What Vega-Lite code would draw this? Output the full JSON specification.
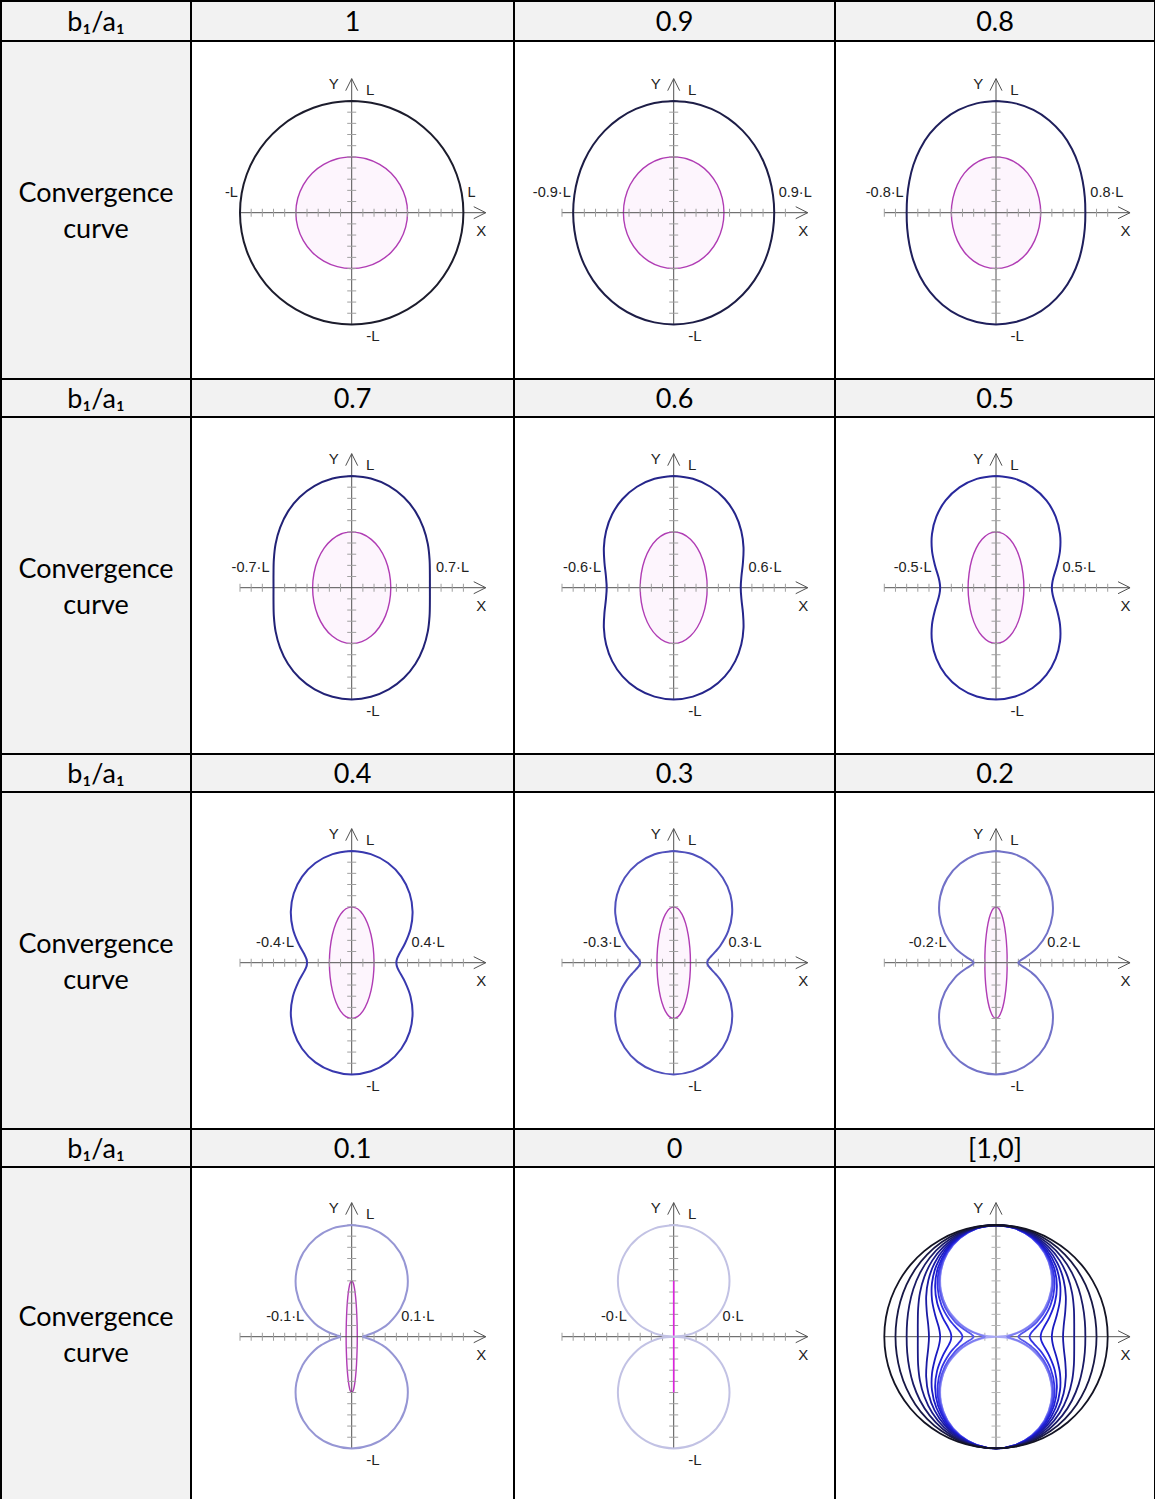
{
  "$schema": "https://vega.github.io/schema/vega-lite/v6.json",
  "background": "white",
  "padding": 0,
  "columns": 4,
  "spacing": 0,
  "bounds": "flush",
  "align": "each",
  "config": {
    "view": {"stroke": "#000000", "strokeWidth": 2},
    "text": {"color": "#000000"}
  },
  "datasets": {
    "ax": [{"x": -1, "y": 0, "x2": 1.2, "y2": 0}, {"x": 0, "y": -1, "x2": 0, "y2": 1.2}],
    "tx": [
      {"x": -1, "y": 0}, {"x": -0.9, "y": 0}, {"x": -0.8, "y": 0}, {"x": -0.7, "y": 0}, {"x": -0.6, "y": 0},
      {"x": -0.5, "y": 0}, {"x": -0.4, "y": 0}, {"x": -0.3, "y": 0}, {"x": -0.2, "y": 0}, {"x": -0.1, "y": 0},
      {"x": 0.1, "y": 0}, {"x": 0.2, "y": 0}, {"x": 0.3, "y": 0}, {"x": 0.4, "y": 0}, {"x": 0.5, "y": 0},
      {"x": 0.6, "y": 0}, {"x": 0.7, "y": 0}, {"x": 0.8, "y": 0}, {"x": 0.9, "y": 0}, {"x": 1, "y": 0}
    ],
    "ty": [
      {"x": 0, "y": -1}, {"x": 0, "y": -0.9}, {"x": 0, "y": -0.8}, {"x": 0, "y": -0.7}, {"x": 0, "y": -0.6},
      {"x": 0, "y": -0.5}, {"x": 0, "y": -0.4}, {"x": 0, "y": -0.3}, {"x": 0, "y": -0.2}, {"x": 0, "y": -0.1},
      {"x": 0, "y": 0.1}, {"x": 0, "y": 0.2}, {"x": 0, "y": 0.3}, {"x": 0, "y": 0.4}, {"x": 0, "y": 0.5},
      {"x": 0, "y": 0.6}, {"x": 0, "y": 0.7}, {"x": 0, "y": 0.8}, {"x": 0, "y": 0.9}, {"x": 0, "y": 1}
    ],
    "ar": [{"x": 1.2, "y": 0, "d": "r"}, {"x": 0, "y": 1.2, "d": "u"}],
    "fx": [
      {"x": -0.16, "y": 1.15, "t": "Y"},
      {"x": 0.165, "y": 1.1, "t": "L"},
      {"x": 0.19, "y": -1.105, "t": "-L"},
      {"x": 1.16, "y": -0.165, "t": "X"}
    ],
    "seg": [{"x": 0, "y": -0.5, "x2": 0, "y2": 0.5}],
    "lab": [
      {"r": 1, "s": "l", "t": "-L", "x": -0.984, "y": 0.18}, {"r": 1, "s": "r", "t": "L", "x": 0.984, "y": 0.18},
      {"r": 0.9, "s": "l", "t": "-0.9·L", "x": -0.886, "y": 0.18}, {"r": 0.9, "s": "r", "t": "0.9·L", "x": 0.886, "y": 0.18},
      {"r": 0.8, "s": "l", "t": "-0.8·L", "x": -0.791, "y": 0.18}, {"r": 0.8, "s": "r", "t": "0.8·L", "x": 0.791, "y": 0.18},
      {"r": 0.7, "s": "l", "t": "-0.7·L", "x": -0.7, "y": 0.18}, {"r": 0.7, "s": "r", "t": "0.7·L", "x": 0.7, "y": 0.18},
      {"r": 0.6, "s": "l", "t": "-0.6·L", "x": -0.615, "y": 0.18}, {"r": 0.6, "s": "r", "t": "0.6·L", "x": 0.615, "y": 0.18},
      {"r": 0.5, "s": "l", "t": "-0.5·L", "x": -0.541, "y": 0.18}, {"r": 0.5, "s": "r", "t": "0.5·L", "x": 0.541, "y": 0.18},
      {"r": 0.4, "s": "l", "t": "-0.4·L", "x": -0.481, "y": 0.18}, {"r": 0.4, "s": "r", "t": "0.4·L", "x": 0.481, "y": 0.18},
      {"r": 0.3, "s": "l", "t": "-0.3·L", "x": -0.436, "y": 0.18}, {"r": 0.3, "s": "r", "t": "0.3·L", "x": 0.436, "y": 0.18},
      {"r": 0.2, "s": "l", "t": "-0.2·L", "x": -0.406, "y": 0.18}, {"r": 0.2, "s": "r", "t": "0.2·L", "x": 0.406, "y": 0.18},
      {"r": 0.1, "s": "l", "t": "-0.1·L", "x": -0.39, "y": 0.18}, {"r": 0.1, "s": "r", "t": "0.1·L", "x": 0.39, "y": 0.18},
      {"r": 0, "s": "l", "t": "-0·L", "x": -0.384, "y": 0.18}, {"r": 0, "s": "r", "t": "0·L", "x": 0.384, "y": 0.18}
    ],
    "ell": [
      {"r":1,"x":0,"y":0.5},{"r":1,"x":-0.129,"y":0.483},{"r":1,"x":-0.25,"y":0.433},{"r":1,"x":-0.354,"y":0.354},{"r":1,"x":-0.433,"y":0.25},{"r":1,"x":-0.483,"y":0.129},{"r":1,"x":-0.5,"y":0},{"r":1,"x":-0.483,"y":-0.129},{"r":1,"x":-0.433,"y":-0.25},{"r":1,"x":-0.354,"y":-0.354},{"r":1,"x":-0.25,"y":-0.433},{"r":1,"x":-0.129,"y":-0.483},{"r":1,"x":0,"y":-0.5},{"r":1,"x":0.129,"y":-0.483},{"r":1,"x":0.25,"y":-0.433},{"r":1,"x":0.354,"y":-0.354},{"r":1,"x":0.433,"y":-0.25},{"r":1,"x":0.483,"y":-0.129},{"r":1,"x":0.5,"y":0},{"r":1,"x":0.483,"y":0.129},{"r":1,"x":0.433,"y":0.25},{"r":1,"x":0.354,"y":0.354},{"r":1,"x":0.25,"y":0.433},{"r":1,"x":0.129,"y":0.483},{"r":1,"x":0,"y":0.5},
      {"r":0.9,"x":0,"y":0.5},{"r":0.9,"x":-0.116,"y":0.483},{"r":0.9,"x":-0.225,"y":0.433},{"r":0.9,"x":-0.318,"y":0.354},{"r":0.9,"x":-0.39,"y":0.25},{"r":0.9,"x":-0.435,"y":0.129},{"r":0.9,"x":-0.45,"y":0},{"r":0.9,"x":-0.435,"y":-0.129},{"r":0.9,"x":-0.39,"y":-0.25},{"r":0.9,"x":-0.318,"y":-0.354},{"r":0.9,"x":-0.225,"y":-0.433},{"r":0.9,"x":-0.116,"y":-0.483},{"r":0.9,"x":0,"y":-0.5},{"r":0.9,"x":0.116,"y":-0.483},{"r":0.9,"x":0.225,"y":-0.433},{"r":0.9,"x":0.318,"y":-0.354},{"r":0.9,"x":0.39,"y":-0.25},{"r":0.9,"x":0.435,"y":-0.129},{"r":0.9,"x":0.45,"y":0},{"r":0.9,"x":0.435,"y":0.129},{"r":0.9,"x":0.39,"y":0.25},{"r":0.9,"x":0.318,"y":0.354},{"r":0.9,"x":0.225,"y":0.433},{"r":0.9,"x":0.116,"y":0.483},{"r":0.9,"x":0,"y":0.5},
      {"r":0.8,"x":0,"y":0.5},{"r":0.8,"x":-0.104,"y":0.483},{"r":0.8,"x":-0.2,"y":0.433},{"r":0.8,"x":-0.283,"y":0.354},{"r":0.8,"x":-0.346,"y":0.25},{"r":0.8,"x":-0.386,"y":0.129},{"r":0.8,"x":-0.4,"y":0},{"r":0.8,"x":-0.386,"y":-0.129},{"r":0.8,"x":-0.346,"y":-0.25},{"r":0.8,"x":-0.283,"y":-0.354},{"r":0.8,"x":-0.2,"y":-0.433},{"r":0.8,"x":-0.104,"y":-0.483},{"r":0.8,"x":0,"y":-0.5},{"r":0.8,"x":0.104,"y":-0.483},{"r":0.8,"x":0.2,"y":-0.433},{"r":0.8,"x":0.283,"y":-0.354},{"r":0.8,"x":0.346,"y":-0.25},{"r":0.8,"x":0.386,"y":-0.129},{"r":0.8,"x":0.4,"y":0},{"r":0.8,"x":0.386,"y":0.129},{"r":0.8,"x":0.346,"y":0.25},{"r":0.8,"x":0.283,"y":0.354},{"r":0.8,"x":0.2,"y":0.433},{"r":0.8,"x":0.104,"y":0.483},{"r":0.8,"x":0,"y":0.5},
      {"r":0.7,"x":0,"y":0.5},{"r":0.7,"x":-0.091,"y":0.483},{"r":0.7,"x":-0.175,"y":0.433},{"r":0.7,"x":-0.247,"y":0.354},{"r":0.7,"x":-0.303,"y":0.25},{"r":0.7,"x":-0.338,"y":0.129},{"r":0.7,"x":-0.35,"y":0},{"r":0.7,"x":-0.338,"y":-0.129},{"r":0.7,"x":-0.303,"y":-0.25},{"r":0.7,"x":-0.247,"y":-0.354},{"r":0.7,"x":-0.175,"y":-0.433},{"r":0.7,"x":-0.091,"y":-0.483},{"r":0.7,"x":0,"y":-0.5},{"r":0.7,"x":0.091,"y":-0.483},{"r":0.7,"x":0.175,"y":-0.433},{"r":0.7,"x":0.247,"y":-0.354},{"r":0.7,"x":0.303,"y":-0.25},{"r":0.7,"x":0.338,"y":-0.129},{"r":0.7,"x":0.35,"y":0},{"r":0.7,"x":0.338,"y":0.129},{"r":0.7,"x":0.303,"y":0.25},{"r":0.7,"x":0.247,"y":0.354},{"r":0.7,"x":0.175,"y":0.433},{"r":0.7,"x":0.091,"y":0.483},{"r":0.7,"x":0,"y":0.5},
      {"r":0.6,"x":0,"y":0.5},{"r":0.6,"x":-0.078,"y":0.483},{"r":0.6,"x":-0.15,"y":0.433},{"r":0.6,"x":-0.212,"y":0.354},{"r":0.6,"x":-0.26,"y":0.25},{"r":0.6,"x":-0.29,"y":0.129},{"r":0.6,"x":-0.3,"y":0},{"r":0.6,"x":-0.29,"y":-0.129},{"r":0.6,"x":-0.26,"y":-0.25},{"r":0.6,"x":-0.212,"y":-0.354},{"r":0.6,"x":-0.15,"y":-0.433},{"r":0.6,"x":-0.078,"y":-0.483},{"r":0.6,"x":0,"y":-0.5},{"r":0.6,"x":0.078,"y":-0.483},{"r":0.6,"x":0.15,"y":-0.433},{"r":0.6,"x":0.212,"y":-0.354},{"r":0.6,"x":0.26,"y":-0.25},{"r":0.6,"x":0.29,"y":-0.129},{"r":0.6,"x":0.3,"y":0},{"r":0.6,"x":0.29,"y":0.129},{"r":0.6,"x":0.26,"y":0.25},{"r":0.6,"x":0.212,"y":0.354},{"r":0.6,"x":0.15,"y":0.433},{"r":0.6,"x":0.078,"y":0.483},{"r":0.6,"x":0,"y":0.5},
      {"r":0.5,"x":0,"y":0.5},{"r":0.5,"x":-0.065,"y":0.483},{"r":0.5,"x":-0.125,"y":0.433},{"r":0.5,"x":-0.177,"y":0.354},{"r":0.5,"x":-0.217,"y":0.25},{"r":0.5,"x":-0.241,"y":0.129},{"r":0.5,"x":-0.25,"y":0},{"r":0.5,"x":-0.241,"y":-0.129},{"r":0.5,"x":-0.217,"y":-0.25},{"r":0.5,"x":-0.177,"y":-0.354},{"r":0.5,"x":-0.125,"y":-0.433},{"r":0.5,"x":-0.065,"y":-0.483},{"r":0.5,"x":0,"y":-0.5},{"r":0.5,"x":0.065,"y":-0.483},{"r":0.5,"x":0.125,"y":-0.433},{"r":0.5,"x":0.177,"y":-0.354},{"r":0.5,"x":0.217,"y":-0.25},{"r":0.5,"x":0.241,"y":-0.129},{"r":0.5,"x":0.25,"y":0},{"r":0.5,"x":0.241,"y":0.129},{"r":0.5,"x":0.217,"y":0.25},{"r":0.5,"x":0.177,"y":0.354},{"r":0.5,"x":0.125,"y":0.433},{"r":0.5,"x":0.065,"y":0.483},{"r":0.5,"x":0,"y":0.5},
      {"r":0.4,"x":0,"y":0.5},{"r":0.4,"x":-0.052,"y":0.483},{"r":0.4,"x":-0.1,"y":0.433},{"r":0.4,"x":-0.141,"y":0.354},{"r":0.4,"x":-0.173,"y":0.25},{"r":0.4,"x":-0.193,"y":0.129},{"r":0.4,"x":-0.2,"y":0},{"r":0.4,"x":-0.193,"y":-0.129},{"r":0.4,"x":-0.173,"y":-0.25},{"r":0.4,"x":-0.141,"y":-0.354},{"r":0.4,"x":-0.1,"y":-0.433},{"r":0.4,"x":-0.052,"y":-0.483},{"r":0.4,"x":0,"y":-0.5},{"r":0.4,"x":0.052,"y":-0.483},{"r":0.4,"x":0.1,"y":-0.433},{"r":0.4,"x":0.141,"y":-0.354},{"r":0.4,"x":0.173,"y":-0.25},{"r":0.4,"x":0.193,"y":-0.129},{"r":0.4,"x":0.2,"y":0},{"r":0.4,"x":0.193,"y":0.129},{"r":0.4,"x":0.173,"y":0.25},{"r":0.4,"x":0.141,"y":0.354},{"r":0.4,"x":0.1,"y":0.433},{"r":0.4,"x":0.052,"y":0.483},{"r":0.4,"x":0,"y":0.5},
      {"r":0.3,"x":0,"y":0.5},{"r":0.3,"x":-0.039,"y":0.483},{"r":0.3,"x":-0.075,"y":0.433},{"r":0.3,"x":-0.106,"y":0.354},{"r":0.3,"x":-0.13,"y":0.25},{"r":0.3,"x":-0.145,"y":0.129},{"r":0.3,"x":-0.15,"y":0},{"r":0.3,"x":-0.145,"y":-0.129},{"r":0.3,"x":-0.13,"y":-0.25},{"r":0.3,"x":-0.106,"y":-0.354},{"r":0.3,"x":-0.075,"y":-0.433},{"r":0.3,"x":-0.039,"y":-0.483},{"r":0.3,"x":0,"y":-0.5},{"r":0.3,"x":0.039,"y":-0.483},{"r":0.3,"x":0.075,"y":-0.433},{"r":0.3,"x":0.106,"y":-0.354},{"r":0.3,"x":0.13,"y":-0.25},{"r":0.3,"x":0.145,"y":-0.129},{"r":0.3,"x":0.15,"y":0},{"r":0.3,"x":0.145,"y":0.129},{"r":0.3,"x":0.13,"y":0.25},{"r":0.3,"x":0.106,"y":0.354},{"r":0.3,"x":0.075,"y":0.433},{"r":0.3,"x":0.039,"y":0.483},{"r":0.3,"x":0,"y":0.5},
      {"r":0.2,"x":0,"y":0.5},{"r":0.2,"x":-0.026,"y":0.483},{"r":0.2,"x":-0.05,"y":0.433},{"r":0.2,"x":-0.071,"y":0.354},{"r":0.2,"x":-0.087,"y":0.25},{"r":0.2,"x":-0.097,"y":0.129},{"r":0.2,"x":-0.1,"y":0},{"r":0.2,"x":-0.097,"y":-0.129},{"r":0.2,"x":-0.087,"y":-0.25},{"r":0.2,"x":-0.071,"y":-0.354},{"r":0.2,"x":-0.05,"y":-0.433},{"r":0.2,"x":-0.026,"y":-0.483},{"r":0.2,"x":0,"y":-0.5},{"r":0.2,"x":0.026,"y":-0.483},{"r":0.2,"x":0.05,"y":-0.433},{"r":0.2,"x":0.071,"y":-0.354},{"r":0.2,"x":0.087,"y":-0.25},{"r":0.2,"x":0.097,"y":-0.129},{"r":0.2,"x":0.1,"y":0},{"r":0.2,"x":0.097,"y":0.129},{"r":0.2,"x":0.087,"y":0.25},{"r":0.2,"x":0.071,"y":0.354},{"r":0.2,"x":0.05,"y":0.433},{"r":0.2,"x":0.026,"y":0.483},{"r":0.2,"x":0,"y":0.5},
      {"r":0.1,"x":0,"y":0.5},{"r":0.1,"x":-0.013,"y":0.483},{"r":0.1,"x":-0.025,"y":0.433},{"r":0.1,"x":-0.035,"y":0.354},{"r":0.1,"x":-0.043,"y":0.25},{"r":0.1,"x":-0.048,"y":0.129},{"r":0.1,"x":-0.05,"y":0},{"r":0.1,"x":-0.048,"y":-0.129},{"r":0.1,"x":-0.043,"y":-0.25},{"r":0.1,"x":-0.035,"y":-0.354},{"r":0.1,"x":-0.025,"y":-0.433},{"r":0.1,"x":-0.013,"y":-0.483},{"r":0.1,"x":0,"y":-0.5},{"r":0.1,"x":0.013,"y":-0.483},{"r":0.1,"x":0.025,"y":-0.433},{"r":0.1,"x":0.035,"y":-0.354},{"r":0.1,"x":0.043,"y":-0.25},{"r":0.1,"x":0.048,"y":-0.129},{"r":0.1,"x":0.05,"y":0},{"r":0.1,"x":0.048,"y":0.129},{"r":0.1,"x":0.043,"y":0.25},{"r":0.1,"x":0.035,"y":0.354},{"r":0.1,"x":0.025,"y":0.433},{"r":0.1,"x":0.013,"y":0.483},{"r":0.1,"x":0,"y":0.5}
    ],
    "hippo": [
      {"r":0,"x":0,"y":1},{"r":0,"x":-0.171,"y":0.97},{"r":0,"x":-0.321,"y":0.883},{"r":0,"x":-0.433,"y":0.75},{"r":0,"x":-0.492,"y":0.587},{"r":0,"x":-0.492,"y":0.413},{"r":0,"x":-0.433,"y":0.25},{"r":0,"x":-0.321,"y":0.117},{"r":0,"x":-0.25,"y":0.067},{"r":0,"x":-0.171,"y":0.03},{"r":0,"x":-0.087,"y":0.008},{"r":0,"x":0,"y":0},
      {"r":0,"x":-0.087,"y":-0.008},{"r":0,"x":-0.171,"y":-0.03},{"r":0,"x":-0.25,"y":-0.067},{"r":0,"x":-0.321,"y":-0.117},{"r":0,"x":-0.433,"y":-0.25},{"r":0,"x":-0.492,"y":-0.413},{"r":0,"x":-0.492,"y":-0.587},{"r":0,"x":-0.433,"y":-0.75},{"r":0,"x":-0.321,"y":-0.883},{"r":0,"x":-0.171,"y":-0.97},{"r":0,"x":0,"y":-1},
      {"r":0,"x":0.171,"y":-0.97},{"r":0,"x":0.321,"y":-0.883},{"r":0,"x":0.433,"y":-0.75},{"r":0,"x":0.492,"y":-0.587},{"r":0,"x":0.492,"y":-0.413},{"r":0,"x":0.433,"y":-0.25},{"r":0,"x":0.321,"y":-0.117},{"r":0,"x":0.25,"y":-0.067},{"r":0,"x":0.171,"y":-0.03},{"r":0,"x":0.087,"y":-0.008},{"r":0,"x":0,"y":0},
      {"r":0,"x":0.087,"y":0.008},{"r":0,"x":0.171,"y":0.03},{"r":0,"x":0.25,"y":0.067},{"r":0,"x":0.321,"y":0.117},{"r":0,"x":0.433,"y":0.25},{"r":0,"x":0.492,"y":0.413},{"r":0,"x":0.492,"y":0.587},{"r":0,"x":0.433,"y":0.75},{"r":0,"x":0.321,"y":0.883},{"r":0,"x":0.171,"y":0.97},{"r":0,"x":0,"y":1},

      {"r":0.1,"x":0,"y":1},{"r":0.1,"x":-0.171,"y":0.97},{"r":0.1,"x":-0.322,"y":0.884},{"r":0.1,"x":-0.434,"y":0.751},{"r":0.1,"x":-0.494,"y":0.589},{"r":0.1,"x":-0.496,"y":0.416},{"r":0.1,"x":-0.439,"y":0.254},{"r":0.1,"x":-0.333,"y":0.121},{"r":0.1,"x":-0.267,"y":0.072},{"r":0.1,"x":-0.197,"y":0.035},{"r":0.1,"x":-0.132,"y":0.012},{"r":0.1,"x":-0.1,"y":0},
      {"r":0.1,"x":-0.132,"y":-0.012},{"r":0.1,"x":-0.197,"y":-0.035},{"r":0.1,"x":-0.267,"y":-0.072},{"r":0.1,"x":-0.333,"y":-0.121},{"r":0.1,"x":-0.439,"y":-0.254},{"r":0.1,"x":-0.496,"y":-0.416},{"r":0.1,"x":-0.494,"y":-0.589},{"r":0.1,"x":-0.434,"y":-0.751},{"r":0.1,"x":-0.322,"y":-0.884},{"r":0.1,"x":-0.171,"y":-0.97},{"r":0.1,"x":0,"y":-1},
      {"r":0.1,"x":0.171,"y":-0.97},{"r":0.1,"x":0.322,"y":-0.884},{"r":0.1,"x":0.434,"y":-0.751},{"r":0.1,"x":0.494,"y":-0.589},{"r":0.1,"x":0.496,"y":-0.416},{"r":0.1,"x":0.439,"y":-0.254},{"r":0.1,"x":0.333,"y":-0.121},{"r":0.1,"x":0.267,"y":-0.072},{"r":0.1,"x":0.197,"y":-0.035},{"r":0.1,"x":0.132,"y":-0.012},{"r":0.1,"x":0.1,"y":0},
      {"r":0.1,"x":0.132,"y":0.012},{"r":0.1,"x":0.197,"y":0.035},{"r":0.1,"x":0.267,"y":0.072},{"r":0.1,"x":0.333,"y":0.121},{"r":0.1,"x":0.439,"y":0.254},{"r":0.1,"x":0.496,"y":0.416},{"r":0.1,"x":0.494,"y":0.589},{"r":0.1,"x":0.434,"y":0.751},{"r":0.1,"x":0.322,"y":0.884},{"r":0.1,"x":0.171,"y":0.97},{"r":0.1,"x":0,"y":1},

      {"r":0.2,"x":0,"y":1},{"r":0.2,"x":-0.171,"y":0.97},{"r":0.2,"x":-0.322,"y":0.885},{"r":0.2,"x":-0.436,"y":0.755},{"r":0.2,"x":-0.499,"y":0.595},{"r":0.2,"x":-0.506,"y":0.425},{"r":0.2,"x":-0.458,"y":0.265},{"r":0.2,"x":-0.367,"y":0.133},{"r":0.2,"x":-0.312,"y":0.084},{"r":0.2,"x":-0.259,"y":0.046},{"r":0.2,"x":-0.217,"y":0.019},{"r":0.2,"x":-0.2,"y":0},
      {"r":0.2,"x":-0.217,"y":-0.019},{"r":0.2,"x":-0.259,"y":-0.046},{"r":0.2,"x":-0.312,"y":-0.084},{"r":0.2,"x":-0.367,"y":-0.133},{"r":0.2,"x":-0.458,"y":-0.265},{"r":0.2,"x":-0.506,"y":-0.425},{"r":0.2,"x":-0.499,"y":-0.595},{"r":0.2,"x":-0.436,"y":-0.755},{"r":0.2,"x":-0.322,"y":-0.885},{"r":0.2,"x":-0.171,"y":-0.97},{"r":0.2,"x":0,"y":-1},
      {"r":0.2,"x":0.171,"y":-0.97},{"r":0.2,"x":0.322,"y":-0.885},{"r":0.2,"x":0.436,"y":-0.755},{"r":0.2,"x":0.499,"y":-0.595},{"r":0.2,"x":0.506,"y":-0.425},{"r":0.2,"x":0.458,"y":-0.265},{"r":0.2,"x":0.367,"y":-0.133},{"r":0.2,"x":0.312,"y":-0.084},{"r":0.2,"x":0.259,"y":-0.046},{"r":0.2,"x":0.217,"y":-0.019},{"r":0.2,"x":0.2,"y":0},
      {"r":0.2,"x":0.217,"y":0.019},{"r":0.2,"x":0.259,"y":0.046},{"r":0.2,"x":0.312,"y":0.084},{"r":0.2,"x":0.367,"y":0.133},{"r":0.2,"x":0.458,"y":0.265},{"r":0.2,"x":0.506,"y":0.425},{"r":0.2,"x":0.499,"y":0.595},{"r":0.2,"x":0.436,"y":0.755},{"r":0.2,"x":0.322,"y":0.885},{"r":0.2,"x":0.171,"y":0.97},{"r":0.2,"x":0,"y":1},

      {"r":0.3,"x":0,"y":1},{"r":0.3,"x":-0.171,"y":0.971},{"r":0.3,"x":-0.323,"y":0.888},{"r":0.3,"x":-0.439,"y":0.761},{"r":0.3,"x":-0.508,"y":0.605},{"r":0.3,"x":-0.523,"y":0.439},{"r":0.3,"x":-0.488,"y":0.282},{"r":0.3,"x":-0.417,"y":0.152},{"r":0.3,"x":-0.375,"y":0.101},{"r":0.3,"x":-0.337,"y":0.06},{"r":0.3,"x":-0.31,"y":0.027},{"r":0.3,"x":-0.3,"y":0},
      {"r":0.3,"x":-0.31,"y":-0.027},{"r":0.3,"x":-0.337,"y":-0.06},{"r":0.3,"x":-0.375,"y":-0.101},{"r":0.3,"x":-0.417,"y":-0.152},{"r":0.3,"x":-0.488,"y":-0.282},{"r":0.3,"x":-0.523,"y":-0.439},{"r":0.3,"x":-0.508,"y":-0.605},{"r":0.3,"x":-0.439,"y":-0.761},{"r":0.3,"x":-0.323,"y":-0.888},{"r":0.3,"x":-0.171,"y":-0.971},{"r":0.3,"x":0,"y":-1},
      {"r":0.3,"x":0.171,"y":-0.971},{"r":0.3,"x":0.323,"y":-0.888},{"r":0.3,"x":0.439,"y":-0.761},{"r":0.3,"x":0.508,"y":-0.605},{"r":0.3,"x":0.523,"y":-0.439},{"r":0.3,"x":0.488,"y":-0.282},{"r":0.3,"x":0.417,"y":-0.152},{"r":0.3,"x":0.375,"y":-0.101},{"r":0.3,"x":0.337,"y":-0.06},{"r":0.3,"x":0.31,"y":-0.027},{"r":0.3,"x":0.3,"y":0},
      {"r":0.3,"x":0.31,"y":0.027},{"r":0.3,"x":0.337,"y":0.06},{"r":0.3,"x":0.375,"y":0.101},{"r":0.3,"x":0.417,"y":0.152},{"r":0.3,"x":0.488,"y":0.282},{"r":0.3,"x":0.523,"y":0.439},{"r":0.3,"x":0.508,"y":0.605},{"r":0.3,"x":0.439,"y":0.761},{"r":0.3,"x":0.323,"y":0.888},{"r":0.3,"x":0.171,"y":0.971},{"r":0.3,"x":0,"y":1},

      {"r":0.4,"x":0,"y":1},{"r":0.4,"x":-0.171,"y":0.972},{"r":0.4,"x":-0.325,"y":0.892},{"r":0.4,"x":-0.444,"y":0.77},{"r":0.4,"x":-0.519,"y":0.619},{"r":0.4,"x":-0.545,"y":0.458},{"r":0.4,"x":-0.527,"y":0.304},{"r":0.4,"x":-0.478,"y":0.174},{"r":0.4,"x":-0.424,"y":0.075},{"r":0.4,"x":-0.406,"y":0.036},{"r":0.4,"x":-0.4,"y":0},
      {"r":0.4,"x":-0.406,"y":-0.036},{"r":0.4,"x":-0.424,"y":-0.075},{"r":0.4,"x":-0.478,"y":-0.174},{"r":0.4,"x":-0.527,"y":-0.304},{"r":0.4,"x":-0.545,"y":-0.458},{"r":0.4,"x":-0.519,"y":-0.619},{"r":0.4,"x":-0.444,"y":-0.77},{"r":0.4,"x":-0.325,"y":-0.892},{"r":0.4,"x":-0.171,"y":-0.972},{"r":0.4,"x":0,"y":-1},
      {"r":0.4,"x":0.171,"y":-0.972},{"r":0.4,"x":0.325,"y":-0.892},{"r":0.4,"x":0.444,"y":-0.77},{"r":0.4,"x":0.519,"y":-0.619},{"r":0.4,"x":0.545,"y":-0.458},{"r":0.4,"x":0.527,"y":-0.304},{"r":0.4,"x":0.478,"y":-0.174},{"r":0.4,"x":0.424,"y":-0.075},{"r":0.4,"x":0.406,"y":-0.036},{"r":0.4,"x":0.4,"y":0},
      {"r":0.4,"x":0.406,"y":0.036},{"r":0.4,"x":0.424,"y":0.075},{"r":0.4,"x":0.478,"y":0.174},{"r":0.4,"x":0.527,"y":0.304},{"r":0.4,"x":0.545,"y":0.458},{"r":0.4,"x":0.519,"y":0.619},{"r":0.4,"x":0.444,"y":0.77},{"r":0.4,"x":0.325,"y":0.892},{"r":0.4,"x":0.171,"y":0.972},{"r":0.4,"x":0,"y":1},

      {"r":0.5,"x":0,"y":1},{"r":0.5,"x":-0.172,"y":0.974},{"r":0.5,"x":-0.327,"y":0.898},{"r":0.5,"x":-0.451,"y":0.781},{"r":0.5,"x":-0.534,"y":0.636},{"r":0.5,"x":-0.573,"y":0.481},{"r":0.5,"x":-0.573,"y":0.331},{"r":0.5,"x":-0.546,"y":0.199},{"r":0.5,"x":-0.514,"y":0.091},{"r":0.5,"x":-0.504,"y":0.044},{"r":0.5,"x":-0.5,"y":0},
      {"r":0.5,"x":-0.504,"y":-0.044},{"r":0.5,"x":-0.514,"y":-0.091},{"r":0.5,"x":-0.546,"y":-0.199},{"r":0.5,"x":-0.573,"y":-0.331},{"r":0.5,"x":-0.573,"y":-0.481},{"r":0.5,"x":-0.534,"y":-0.636},{"r":0.5,"x":-0.451,"y":-0.781},{"r":0.5,"x":-0.327,"y":-0.898},{"r":0.5,"x":-0.172,"y":-0.974},{"r":0.5,"x":0,"y":-1},
      {"r":0.5,"x":0.172,"y":-0.974},{"r":0.5,"x":0.327,"y":-0.898},{"r":0.5,"x":0.451,"y":-0.781},{"r":0.5,"x":0.534,"y":-0.636},{"r":0.5,"x":0.573,"y":-0.481},{"r":0.5,"x":0.573,"y":-0.331},{"r":0.5,"x":0.546,"y":-0.199},{"r":0.5,"x":0.514,"y":-0.091},{"r":0.5,"x":0.504,"y":-0.044},{"r":0.5,"x":0.5,"y":0},
      {"r":0.5,"x":0.504,"y":0.044},{"r":0.5,"x":0.514,"y":0.091},{"r":0.5,"x":0.546,"y":0.199},{"r":0.5,"x":0.573,"y":0.331},{"r":0.5,"x":0.573,"y":0.481},{"r":0.5,"x":0.534,"y":0.636},{"r":0.5,"x":0.451,"y":0.781},{"r":0.5,"x":0.327,"y":0.898},{"r":0.5,"x":0.172,"y":0.974},{"r":0.5,"x":0,"y":1},

      {"r":0.6,"x":0,"y":1},{"r":0.6,"x":-0.172,"y":0.975},{"r":0.6,"x":-0.329,"y":0.904},{"r":0.6,"x":-0.458,"y":0.794},{"r":0.6,"x":-0.551,"y":0.657},{"r":0.6,"x":-0.605,"y":0.508},{"r":0.6,"x":-0.625,"y":0.361},{"r":0.6,"x":-0.62,"y":0.226},{"r":0.6,"x":-0.607,"y":0.107},{"r":0.6,"x":-0.6,"y":0},
      {"r":0.6,"x":-0.607,"y":-0.107},{"r":0.6,"x":-0.62,"y":-0.226},{"r":0.6,"x":-0.625,"y":-0.361},{"r":0.6,"x":-0.605,"y":-0.508},{"r":0.6,"x":-0.551,"y":-0.657},{"r":0.6,"x":-0.458,"y":-0.794},{"r":0.6,"x":-0.329,"y":-0.904},{"r":0.6,"x":-0.172,"y":-0.975},{"r":0.6,"x":0,"y":-1},
      {"r":0.6,"x":0.172,"y":-0.975},{"r":0.6,"x":0.329,"y":-0.904},{"r":0.6,"x":0.458,"y":-0.794},{"r":0.6,"x":0.551,"y":-0.657},{"r":0.6,"x":0.605,"y":-0.508},{"r":0.6,"x":0.625,"y":-0.361},{"r":0.6,"x":0.62,"y":-0.226},{"r":0.6,"x":0.607,"y":-0.107},{"r":0.6,"x":0.6,"y":0},
      {"r":0.6,"x":0.607,"y":0.107},{"r":0.6,"x":0.62,"y":0.226},{"r":0.6,"x":0.625,"y":0.361},{"r":0.6,"x":0.605,"y":0.508},{"r":0.6,"x":0.551,"y":0.657},{"r":0.6,"x":0.458,"y":0.794},{"r":0.6,"x":0.329,"y":0.904},{"r":0.6,"x":0.172,"y":0.975},{"r":0.6,"x":0,"y":1},

      {"r":0.7,"x":0,"y":1},{"r":0.7,"x":-0.172,"y":0.977},{"r":0.7,"x":-0.332,"y":0.911},{"r":0.7,"x":-0.467,"y":0.809},{"r":0.7,"x":-0.571,"y":0.681},{"r":0.7,"x":-0.641,"y":0.538},{"r":0.7,"x":-0.681,"y":0.393},{"r":0.7,"x":-0.697,"y":0.254},{"r":0.7,"x":-0.7,"y":0.123},{"r":0.7,"x":-0.7,"y":0},
      {"r":0.7,"x":-0.7,"y":-0.123},{"r":0.7,"x":-0.697,"y":-0.254},{"r":0.7,"x":-0.681,"y":-0.393},{"r":0.7,"x":-0.641,"y":-0.538},{"r":0.7,"x":-0.571,"y":-0.681},{"r":0.7,"x":-0.467,"y":-0.809},{"r":0.7,"x":-0.332,"y":-0.911},{"r":0.7,"x":-0.172,"y":-0.977},{"r":0.7,"x":0,"y":-1},
      {"r":0.7,"x":0.172,"y":-0.977},{"r":0.7,"x":0.332,"y":-0.911},{"r":0.7,"x":0.467,"y":-0.809},{"r":0.7,"x":0.571,"y":-0.681},{"r":0.7,"x":0.641,"y":-0.538},{"r":0.7,"x":0.681,"y":-0.393},{"r":0.7,"x":0.697,"y":-0.254},{"r":0.7,"x":0.7,"y":-0.123},{"r":0.7,"x":0.7,"y":0},
      {"r":0.7,"x":0.7,"y":0.123},{"r":0.7,"x":0.697,"y":0.254},{"r":0.7,"x":0.681,"y":0.393},{"r":0.7,"x":0.641,"y":0.538},{"r":0.7,"x":0.571,"y":0.681},{"r":0.7,"x":0.467,"y":0.809},{"r":0.7,"x":0.332,"y":0.911},{"r":0.7,"x":0.172,"y":0.977},{"r":0.7,"x":0,"y":1},

      {"r":0.8,"x":0,"y":1},{"r":0.8,"x":-0.173,"y":0.979},{"r":0.8,"x":-0.335,"y":0.92},{"r":0.8,"x":-0.477,"y":0.826},{"r":0.8,"x":-0.593,"y":0.707},{"r":0.8,"x":-0.68,"y":0.571},{"r":0.8,"x":-0.74,"y":0.427},{"r":0.8,"x":-0.776,"y":0.282},{"r":0.8,"x":-0.795,"y":0.14},{"r":0.8,"x":-0.8,"y":0},
      {"r":0.8,"x":-0.795,"y":-0.14},{"r":0.8,"x":-0.776,"y":-0.282},{"r":0.8,"x":-0.74,"y":-0.427},{"r":0.8,"x":-0.68,"y":-0.571},{"r":0.8,"x":-0.593,"y":-0.707},{"r":0.8,"x":-0.477,"y":-0.826},{"r":0.8,"x":-0.335,"y":-0.92},{"r":0.8,"x":-0.173,"y":-0.979},{"r":0.8,"x":0,"y":-1},
      {"r":0.8,"x":0.173,"y":-0.979},{"r":0.8,"x":0.335,"y":-0.92},{"r":0.8,"x":0.477,"y":-0.826},{"r":0.8,"x":0.593,"y":-0.707},{"r":0.8,"x":0.68,"y":-0.571},{"r":0.8,"x":0.74,"y":-0.427},{"r":0.8,"x":0.776,"y":-0.282},{"r":0.8,"x":0.795,"y":-0.14},{"r":0.8,"x":0.8,"y":0},
      {"r":0.8,"x":0.795,"y":0.14},{"r":0.8,"x":0.776,"y":0.282},{"r":0.8,"x":0.74,"y":0.427},{"r":0.8,"x":0.68,"y":0.571},{"r":0.8,"x":0.593,"y":0.707},{"r":0.8,"x":0.477,"y":0.826},{"r":0.8,"x":0.335,"y":0.92},{"r":0.8,"x":0.173,"y":0.979},{"r":0.8,"x":0,"y":1},

      {"r":0.9,"x":0,"y":1},{"r":0.9,"x":-0.173,"y":0.982},{"r":0.9,"x":-0.338,"y":0.929},{"r":0.9,"x":-0.488,"y":0.845},{"r":0.9,"x":-0.617,"y":0.735},{"r":0.9,"x":-0.722,"y":0.606},{"r":0.9,"x":-0.802,"y":0.463},{"r":0.9,"x":-0.857,"y":0.312},{"r":0.9,"x":-0.889,"y":0.157},{"r":0.9,"x":-0.9,"y":0},
      {"r":0.9,"x":-0.889,"y":-0.157},{"r":0.9,"x":-0.857,"y":-0.312},{"r":0.9,"x":-0.802,"y":-0.463},{"r":0.9,"x":-0.722,"y":-0.606},{"r":0.9,"x":-0.617,"y":-0.735},{"r":0.9,"x":-0.488,"y":-0.845},{"r":0.9,"x":-0.338,"y":-0.929},{"r":0.9,"x":-0.173,"y":-0.982},{"r":0.9,"x":0,"y":-1},
      {"r":0.9,"x":0.173,"y":-0.982},{"r":0.9,"x":0.338,"y":-0.929},{"r":0.9,"x":0.488,"y":-0.845},{"r":0.9,"x":0.617,"y":-0.735},{"r":0.9,"x":0.722,"y":-0.606},{"r":0.9,"x":0.802,"y":-0.463},{"r":0.9,"x":0.857,"y":-0.312},{"r":0.9,"x":0.889,"y":-0.157},{"r":0.9,"x":0.9,"y":0},
      {"r":0.9,"x":0.889,"y":0.157},{"r":0.9,"x":0.857,"y":0.312},{"r":0.9,"x":0.802,"y":0.463},{"r":0.9,"x":0.722,"y":0.606},{"r":0.9,"x":0.617,"y":0.735},{"r":0.9,"x":0.488,"y":0.845},{"r":0.9,"x":0.338,"y":0.929},{"r":0.9,"x":0.173,"y":0.982},{"r":0.9,"x":0,"y":1},

      {"r":1,"x":0,"y":1},{"r":1,"x":-0.174,"y":0.985},{"r":1,"x":-0.342,"y":0.94},{"r":1,"x":-0.5,"y":0.866},{"r":1,"x":-0.643,"y":0.766},{"r":1,"x":-0.766,"y":0.643},{"r":1,"x":-0.866,"y":0.5},{"r":1,"x":-0.94,"y":0.342},{"r":1,"x":-0.985,"y":0.174},{"r":1,"x":-1,"y":0},
      {"r":1,"x":-0.985,"y":-0.174},{"r":1,"x":-0.94,"y":-0.342},{"r":1,"x":-0.866,"y":-0.5},{"r":1,"x":-0.766,"y":-0.643},{"r":1,"x":-0.643,"y":-0.766},{"r":1,"x":-0.5,"y":-0.866},{"r":1,"x":-0.342,"y":-0.94},{"r":1,"x":-0.174,"y":-0.985},{"r":1,"x":0,"y":-1},
      {"r":1,"x":0.174,"y":-0.985},{"r":1,"x":0.342,"y":-0.94},{"r":1,"x":0.5,"y":-0.866},{"r":1,"x":0.643,"y":-0.766},{"r":1,"x":0.766,"y":-0.643},{"r":1,"x":0.866,"y":-0.5},{"r":1,"x":0.94,"y":-0.342},{"r":1,"x":0.985,"y":-0.174},{"r":1,"x":1,"y":0},
      {"r":1,"x":0.985,"y":0.174},{"r":1,"x":0.94,"y":0.342},{"r":1,"x":0.866,"y":0.5},{"r":1,"x":0.766,"y":0.643},{"r":1,"x":0.643,"y":0.766},{"r":1,"x":0.5,"y":0.866},{"r":1,"x":0.342,"y":0.94},{"r":1,"x":0.174,"y":0.985},{"r":1,"x":0,"y":1}
    ]
  },
  "concat": [
    {"width": 190, "height": 40, "view": {"fill": "#f2f2f2", "stroke": "#000000", "strokeWidth": 2}, "data": {"values": [{"t": "b₁/a₁"}]}, "mark": {"type": "text", "font": "Lato", "fontSize": 27, "dy": 2}, "encoding": {"text": {"field": "t", "type": "nominal"}}},
    {"width": 323, "height": 40, "view": {"fill": "#f2f2f2", "stroke": "#000000", "strokeWidth": 2}, "data": {"values": [{"t": "1"}]}, "mark": {"type": "text", "font": "Lato", "fontSize": 27, "dy": 2}, "encoding": {"text": {"field": "t", "type": "nominal"}}},
    {"width": 321, "height": 40, "view": {"fill": "#f2f2f2", "stroke": "#000000", "strokeWidth": 2}, "data": {"values": [{"t": "0.9"}]}, "mark": {"type": "text", "font": "Lato", "fontSize": 27, "dy": 2}, "encoding": {"text": {"field": "t", "type": "nominal"}}},
    {"width": 320, "height": 40, "view": {"fill": "#f2f2f2", "stroke": "#000000", "strokeWidth": 2}, "data": {"values": [{"t": "0.8"}]}, "mark": {"type": "text", "font": "Lato", "fontSize": 27, "dy": 2}, "encoding": {"text": {"field": "t", "type": "nominal"}}},

    {"width": 190, "height": 338, "view": {"fill": "#f2f2f2", "stroke": "#000000", "strokeWidth": 2}, "data": {"values": [{"t": "Convergence\ncurve"}]}, "mark": {"type": "text", "font": "Lato", "fontSize": 27, "lineBreak": "\n", "lineHeight": 36, "dy": -16}, "encoding": {"text": {"field": "t", "type": "nominal"}}},
    {"width": 323, "height": 338,
     "encoding": {"x": {"field": "x", "type": "quantitative", "scale": {"domain": [-1.4387, 1.453], "nice": false, "zero": false, "padding": 0}, "axis": null},
                  "y": {"field": "y", "type": "quantitative", "scale": {"domain": [-1.4888, 1.5372], "nice": false, "zero": false, "padding": 0}, "axis": null}},
     "layer": [
      {"data": {"name": "ell"}, "transform": [{"filter": "datum.r == 1"}], "mark": {"type": "line", "interpolate": "catmull-rom", "stroke": "#b03cb4", "strokeWidth": 1.4, "fill": "#fdf5fd"}, "encoding": {"order": {"value": null}}},
      {"data": {"name": "ax"}, "mark": {"type": "rule", "color": "#505050", "strokeWidth": 1}, "encoding": {"x2": {"field": "x2"}, "y2": {"field": "y2"}}},
      {"data": {"name": "tx"}, "mark": {"type": "tick", "orient": "vertical", "size": 8, "thickness": 1, "color": "#a0a0a0", "opacity": 1}},
      {"data": {"name": "ty"}, "mark": {"type": "tick", "orient": "horizontal", "size": 9, "thickness": 1, "color": "#a0a0a0", "opacity": 1}},
      {"data": {"name": "ar"}, "mark": {"type": "point", "filled": false, "size": 576, "color": "#505050", "strokeWidth": 1, "opacity": 1}, "encoding": {"shape": {"field": "d", "type": "nominal", "scale": {"domain": ["r", "u"], "range": ["M-1,-0.5L0,0L-1,0.5", "M-0.5,1L0,0L0.5,1"]}, "legend": null}}},
      {"data": {"name": "hippo"}, "transform": [{"filter": "datum.r == 1"}], "mark": {"type": "line", "interpolate": "catmull-rom", "color": "#1c1c2c", "strokeWidth": 2}, "encoding": {"order": {"value": null}}},
      {"data": {"name": "fx"}, "mark": {"type": "text", "font": "Liberation Sans", "fontSize": 15, "color": "#222222"}, "encoding": {"text": {"field": "t", "type": "nominal"}}},
      {"data": {"name": "lab"}, "transform": [{"filter": "datum.r == 1 && datum.s == 'l'"}], "mark": {"type": "text", "align": "right", "dx": -4, "font": "Liberation Sans", "fontSize": 14.5, "color": "#222222"}, "encoding": {"text": {"field": "t", "type": "nominal"}}},
      {"data": {"name": "lab"}, "transform": [{"filter": "datum.r == 1 && datum.s == 'r'"}], "mark": {"type": "text", "align": "left", "dx": 6, "font": "Liberation Sans", "fontSize": 14.5, "color": "#222222"}, "encoding": {"text": {"field": "t", "type": "nominal"}}}
     ]},
    {"width": 321, "height": 338,
     "encoding": {"x": {"field": "x", "type": "quantitative", "scale": {"domain": [-1.4297, 1.4441], "nice": false, "zero": false, "padding": 0}, "axis": null},
                  "y": {"field": "y", "type": "quantitative", "scale": {"domain": [-1.4888, 1.5372], "nice": false, "zero": false, "padding": 0}, "axis": null}},
     "layer": [
      {"data": {"name": "ell"}, "transform": [{"filter": "datum.r == 0.9"}], "mark": {"type": "line", "interpolate": "catmull-rom", "stroke": "#b03cb4", "strokeWidth": 1.4, "fill": "#fdf5fd"}, "encoding": {"order": {"value": null}}},
      {"data": {"name": "ax"}, "mark": {"type": "rule", "color": "#505050", "strokeWidth": 1}, "encoding": {"x2": {"field": "x2"}, "y2": {"field": "y2"}}},
      {"data": {"name": "tx"}, "mark": {"type": "tick", "orient": "vertical", "size": 8, "thickness": 1, "color": "#a0a0a0", "opacity": 1}},
      {"data": {"name": "ty"}, "mark": {"type": "tick", "orient": "horizontal", "size": 9, "thickness": 1, "color": "#a0a0a0", "opacity": 1}},
      {"data": {"name": "ar"}, "mark": {"type": "point", "filled": false, "size": 576, "color": "#505050", "strokeWidth": 1, "opacity": 1}, "encoding": {"shape": {"field": "d", "type": "nominal", "scale": {"domain": ["r", "u"], "range": ["M-1,-0.5L0,0L-1,0.5", "M-0.5,1L0,0L0.5,1"]}, "legend": null}}},
      {"data": {"name": "hippo"}, "transform": [{"filter": "datum.r == 0.9"}], "mark": {"type": "line", "interpolate": "catmull-rom", "color": "#1d1d46", "strokeWidth": 2}, "encoding": {"order": {"value": null}}},
      {"data": {"name": "fx"}, "mark": {"type": "text", "font": "Liberation Sans", "fontSize": 15, "color": "#222222"}, "encoding": {"text": {"field": "t", "type": "nominal"}}},
      {"data": {"name": "lab"}, "transform": [{"filter": "datum.r == 0.9 && datum.s == 'l'"}], "mark": {"type": "text", "align": "right", "dx": -4, "font": "Liberation Sans", "fontSize": 14.5, "color": "#222222"}, "encoding": {"text": {"field": "t", "type": "nominal"}}},
      {"data": {"name": "lab"}, "transform": [{"filter": "datum.r == 0.9 && datum.s == 'r'"}], "mark": {"type": "text", "align": "left", "dx": 6, "font": "Liberation Sans", "fontSize": 14.5, "color": "#222222"}, "encoding": {"text": {"field": "t", "type": "nominal"}}}
     ]},
    {"width": 320, "height": 338,
     "encoding": {"x": {"field": "x", "type": "quantitative", "scale": {"domain": [-1.4414, 1.4234], "nice": false, "zero": false, "padding": 0}, "axis": null},
                  "y": {"field": "y", "type": "quantitative", "scale": {"domain": [-1.4888, 1.5372], "nice": false, "zero": false, "padding": 0}, "axis": null}},
     "layer": [
      {"data": {"name": "ell"}, "transform": [{"filter": "datum.r == 0.8"}], "mark": {"type": "line", "interpolate": "catmull-rom", "stroke": "#b03cb4", "strokeWidth": 1.4, "fill": "#fdf5fd"}, "encoding": {"order": {"value": null}}},
      {"data": {"name": "ax"}, "mark": {"type": "rule", "color": "#505050", "strokeWidth": 1}, "encoding": {"x2": {"field": "x2"}, "y2": {"field": "y2"}}},
      {"data": {"name": "tx"}, "mark": {"type": "tick", "orient": "vertical", "size": 8, "thickness": 1, "color": "#a0a0a0", "opacity": 1}},
      {"data": {"name": "ty"}, "mark": {"type": "tick", "orient": "horizontal", "size": 9, "thickness": 1, "color": "#a0a0a0", "opacity": 1}},
      {"data": {"name": "ar"}, "mark": {"type": "point", "filled": false, "size": 576, "color": "#505050", "strokeWidth": 1, "opacity": 1}, "encoding": {"shape": {"field": "d", "type": "nominal", "scale": {"domain": ["r", "u"], "range": ["M-1,-0.5L0,0L-1,0.5", "M-0.5,1L0,0L0.5,1"]}, "legend": null}}},
      {"data": {"name": "hippo"}, "transform": [{"filter": "datum.r == 0.8"}], "mark": {"type": "line", "interpolate": "catmull-rom", "color": "#1f1f5c", "strokeWidth": 2}, "encoding": {"order": {"value": null}}},
      {"data": {"name": "fx"}, "mark": {"type": "text", "font": "Liberation Sans", "fontSize": 15, "color": "#222222"}, "encoding": {"text": {"field": "t", "type": "nominal"}}},
      {"data": {"name": "lab"}, "transform": [{"filter": "datum.r == 0.8 && datum.s == 'l'"}], "mark": {"type": "text", "align": "right", "dx": -4, "font": "Liberation Sans", "fontSize": 14.5, "color": "#222222"}, "encoding": {"text": {"field": "t", "type": "nominal"}}},
      {"data": {"name": "lab"}, "transform": [{"filter": "datum.r == 0.8 && datum.s == 'r'"}], "mark": {"type": "text", "align": "left", "dx": 6, "font": "Liberation Sans", "fontSize": 14.5, "color": "#222222"}, "encoding": {"text": {"field": "t", "type": "nominal"}}}
     ]},

    {"width": 190, "height": 38, "view": {"fill": "#f2f2f2", "stroke": "#000000", "strokeWidth": 2}, "data": {"values": [{"t": "b₁/a₁"}]}, "mark": {"type": "text", "font": "Lato", "fontSize": 27, "dy": 2}, "encoding": {"text": {"field": "t", "type": "nominal"}}},
    {"width": 323, "height": 38, "view": {"fill": "#f2f2f2", "stroke": "#000000", "strokeWidth": 2}, "data": {"values": [{"t": "0.7"}]}, "mark": {"type": "text", "font": "Lato", "fontSize": 27, "dy": 2}, "encoding": {"text": {"field": "t", "type": "nominal"}}},
    {"width": 321, "height": 38, "view": {"fill": "#f2f2f2", "stroke": "#000000", "strokeWidth": 2}, "data": {"values": [{"t": "0.6"}]}, "mark": {"type": "text", "font": "Lato", "fontSize": 27, "dy": 2}, "encoding": {"text": {"field": "t", "type": "nominal"}}},
    {"width": 320, "height": 38, "view": {"fill": "#f2f2f2", "stroke": "#000000", "strokeWidth": 2}, "data": {"values": [{"t": "0.5"}]}, "mark": {"type": "text", "font": "Lato", "fontSize": 27, "dy": 2}, "encoding": {"text": {"field": "t", "type": "nominal"}}},

    {"width": 190, "height": 337, "view": {"fill": "#f2f2f2", "stroke": "#000000", "strokeWidth": 2}, "data": {"values": [{"t": "Convergence\ncurve"}]}, "mark": {"type": "text", "font": "Lato", "fontSize": 27, "lineBreak": "\n", "lineHeight": 36, "dy": -16}, "encoding": {"text": {"field": "t", "type": "nominal"}}},
    {"width": 323, "height": 337,
     "encoding": {"x": {"field": "x", "type": "quantitative", "scale": {"domain": [-1.4387, 1.453], "nice": false, "zero": false, "padding": 0}, "axis": null},
                  "y": {"field": "y", "type": "quantitative", "scale": {"domain": [-1.4888, 1.5282], "nice": false, "zero": false, "padding": 0}, "axis": null}},
     "layer": [
      {"data": {"name": "ell"}, "transform": [{"filter": "datum.r == 0.7"}], "mark": {"type": "line", "interpolate": "catmull-rom", "stroke": "#b03cb4", "strokeWidth": 1.4, "fill": "#fdf5fd"}, "encoding": {"order": {"value": null}}},
      {"data": {"name": "ax"}, "mark": {"type": "rule", "color": "#505050", "strokeWidth": 1}, "encoding": {"x2": {"field": "x2"}, "y2": {"field": "y2"}}},
      {"data": {"name": "tx"}, "mark": {"type": "tick", "orient": "vertical", "size": 8, "thickness": 1, "color": "#a0a0a0", "opacity": 1}},
      {"data": {"name": "ty"}, "mark": {"type": "tick", "orient": "horizontal", "size": 9, "thickness": 1, "color": "#a0a0a0", "opacity": 1}},
      {"data": {"name": "ar"}, "mark": {"type": "point", "filled": false, "size": 576, "color": "#505050", "strokeWidth": 1, "opacity": 1}, "encoding": {"shape": {"field": "d", "type": "nominal", "scale": {"domain": ["r", "u"], "range": ["M-1,-0.5L0,0L-1,0.5", "M-0.5,1L0,0L0.5,1"]}, "legend": null}}},
      {"data": {"name": "hippo"}, "transform": [{"filter": "datum.r == 0.7"}], "mark": {"type": "line", "interpolate": "catmull-rom", "color": "#222276", "strokeWidth": 2}, "encoding": {"order": {"value": null}}},
      {"data": {"name": "fx"}, "mark": {"type": "text", "font": "Liberation Sans", "fontSize": 15, "color": "#222222"}, "encoding": {"text": {"field": "t", "type": "nominal"}}},
      {"data": {"name": "lab"}, "transform": [{"filter": "datum.r == 0.7 && datum.s == 'l'"}], "mark": {"type": "text", "align": "right", "dx": -4, "font": "Liberation Sans", "fontSize": 14.5, "color": "#222222"}, "encoding": {"text": {"field": "t", "type": "nominal"}}},
      {"data": {"name": "lab"}, "transform": [{"filter": "datum.r == 0.7 && datum.s == 'r'"}], "mark": {"type": "text", "align": "left", "dx": 6, "font": "Liberation Sans", "fontSize": 14.5, "color": "#222222"}, "encoding": {"text": {"field": "t", "type": "nominal"}}}
     ]},
    {"width": 321, "height": 337,
     "encoding": {"x": {"field": "x", "type": "quantitative", "scale": {"domain": [-1.4297, 1.4441], "nice": false, "zero": false, "padding": 0}, "axis": null},
                  "y": {"field": "y", "type": "quantitative", "scale": {"domain": [-1.4888, 1.5282], "nice": false, "zero": false, "padding": 0}, "axis": null}},
     "layer": [
      {"data": {"name": "ell"}, "transform": [{"filter": "datum.r == 0.6"}], "mark": {"type": "line", "interpolate": "catmull-rom", "stroke": "#b03cb4", "strokeWidth": 1.4, "fill": "#fdf5fd"}, "encoding": {"order": {"value": null}}},
      {"data": {"name": "ax"}, "mark": {"type": "rule", "color": "#505050", "strokeWidth": 1}, "encoding": {"x2": {"field": "x2"}, "y2": {"field": "y2"}}},
      {"data": {"name": "tx"}, "mark": {"type": "tick", "orient": "vertical", "size": 8, "thickness": 1, "color": "#a0a0a0", "opacity": 1}},
      {"data": {"name": "ty"}, "mark": {"type": "tick", "orient": "horizontal", "size": 9, "thickness": 1, "color": "#a0a0a0", "opacity": 1}},
      {"data": {"name": "ar"}, "mark": {"type": "point", "filled": false, "size": 576, "color": "#505050", "strokeWidth": 1, "opacity": 1}, "encoding": {"shape": {"field": "d", "type": "nominal", "scale": {"domain": ["r", "u"], "range": ["M-1,-0.5L0,0L-1,0.5", "M-0.5,1L0,0L0.5,1"]}, "legend": null}}},
      {"data": {"name": "hippo"}, "transform": [{"filter": "datum.r == 0.6"}], "mark": {"type": "line", "interpolate": "catmull-rom", "color": "#25258a", "strokeWidth": 2}, "encoding": {"order": {"value": null}}},
      {"data": {"name": "fx"}, "mark": {"type": "text", "font": "Liberation Sans", "fontSize": 15, "color": "#222222"}, "encoding": {"text": {"field": "t", "type": "nominal"}}},
      {"data": {"name": "lab"}, "transform": [{"filter": "datum.r == 0.6 && datum.s == 'l'"}], "mark": {"type": "text", "align": "right", "dx": -4, "font": "Liberation Sans", "fontSize": 14.5, "color": "#222222"}, "encoding": {"text": {"field": "t", "type": "nominal"}}},
      {"data": {"name": "lab"}, "transform": [{"filter": "datum.r == 0.6 && datum.s == 'r'"}], "mark": {"type": "text", "align": "left", "dx": 6, "font": "Liberation Sans", "fontSize": 14.5, "color": "#222222"}, "encoding": {"text": {"field": "t", "type": "nominal"}}}
     ]},
    {"width": 320, "height": 337,
     "encoding": {"x": {"field": "x", "type": "quantitative", "scale": {"domain": [-1.4414, 1.4234], "nice": false, "zero": false, "padding": 0}, "axis": null},
                  "y": {"field": "y", "type": "quantitative", "scale": {"domain": [-1.4888, 1.5282], "nice": false, "zero": false, "padding": 0}, "axis": null}},
     "layer": [
      {"data": {"name": "ell"}, "transform": [{"filter": "datum.r == 0.5"}], "mark": {"type": "line", "interpolate": "catmull-rom", "stroke": "#b03cb4", "strokeWidth": 1.4, "fill": "#fdf5fd"}, "encoding": {"order": {"value": null}}},
      {"data": {"name": "ax"}, "mark": {"type": "rule", "color": "#505050", "strokeWidth": 1}, "encoding": {"x2": {"field": "x2"}, "y2": {"field": "y2"}}},
      {"data": {"name": "tx"}, "mark": {"type": "tick", "orient": "vertical", "size": 8, "thickness": 1, "color": "#a0a0a0", "opacity": 1}},
      {"data": {"name": "ty"}, "mark": {"type": "tick", "orient": "horizontal", "size": 9, "thickness": 1, "color": "#a0a0a0", "opacity": 1}},
      {"data": {"name": "ar"}, "mark": {"type": "point", "filled": false, "size": 576, "color": "#505050", "strokeWidth": 1, "opacity": 1}, "encoding": {"shape": {"field": "d", "type": "nominal", "scale": {"domain": ["r", "u"], "range": ["M-1,-0.5L0,0L-1,0.5", "M-0.5,1L0,0L0.5,1"]}, "legend": null}}},
      {"data": {"name": "hippo"}, "transform": [{"filter": "datum.r == 0.5"}], "mark": {"type": "line", "interpolate": "catmull-rom", "color": "#28289c", "strokeWidth": 2}, "encoding": {"order": {"value": null}}},
      {"data": {"name": "fx"}, "mark": {"type": "text", "font": "Liberation Sans", "fontSize": 15, "color": "#222222"}, "encoding": {"text": {"field": "t", "type": "nominal"}}},
      {"data": {"name": "lab"}, "transform": [{"filter": "datum.r == 0.5 && datum.s == 'l'"}], "mark": {"type": "text", "align": "right", "dx": -4, "font": "Liberation Sans", "fontSize": 14.5, "color": "#222222"}, "encoding": {"text": {"field": "t", "type": "nominal"}}},
      {"data": {"name": "lab"}, "transform": [{"filter": "datum.r == 0.5 && datum.s == 'r'"}], "mark": {"type": "text", "align": "left", "dx": 6, "font": "Liberation Sans", "fontSize": 14.5, "color": "#222222"}, "encoding": {"text": {"field": "t", "type": "nominal"}}}
     ]},

    {"width": 190, "height": 38, "view": {"fill": "#f2f2f2", "stroke": "#000000", "strokeWidth": 2}, "data": {"values": [{"t": "b₁/a₁"}]}, "mark": {"type": "text", "font": "Lato", "fontSize": 27, "dy": 2}, "encoding": {"text": {"field": "t", "type": "nominal"}}},
    {"width": 323, "height": 38, "view": {"fill": "#f2f2f2", "stroke": "#000000", "strokeWidth": 2}, "data": {"values": [{"t": "0.4"}]}, "mark": {"type": "text", "font": "Lato", "fontSize": 27, "dy": 2}, "encoding": {"text": {"field": "t", "type": "nominal"}}},
    {"width": 321, "height": 38, "view": {"fill": "#f2f2f2", "stroke": "#000000", "strokeWidth": 2}, "data": {"values": [{"t": "0.3"}]}, "mark": {"type": "text", "font": "Lato", "fontSize": 27, "dy": 2}, "encoding": {"text": {"field": "t", "type": "nominal"}}},
    {"width": 320, "height": 38, "view": {"fill": "#f2f2f2", "stroke": "#000000", "strokeWidth": 2}, "data": {"values": [{"t": "0.2"}]}, "mark": {"type": "text", "font": "Lato", "fontSize": 27, "dy": 2}, "encoding": {"text": {"field": "t", "type": "nominal"}}},

    {"width": 190, "height": 337, "view": {"fill": "#f2f2f2", "stroke": "#000000", "strokeWidth": 2}, "data": {"values": [{"t": "Convergence\ncurve"}]}, "mark": {"type": "text", "font": "Lato", "fontSize": 27, "lineBreak": "\n", "lineHeight": 36, "dy": -16}, "encoding": {"text": {"field": "t", "type": "nominal"}}},
    {"width": 323, "height": 337,
     "encoding": {"x": {"field": "x", "type": "quantitative", "scale": {"domain": [-1.4387, 1.453], "nice": false, "zero": false, "padding": 0}, "axis": null},
                  "y": {"field": "y", "type": "quantitative", "scale": {"domain": [-1.4888, 1.5282], "nice": false, "zero": false, "padding": 0}, "axis": null}},
     "layer": [
      {"data": {"name": "ell"}, "transform": [{"filter": "datum.r == 0.4"}], "mark": {"type": "line", "interpolate": "catmull-rom", "stroke": "#b03cb4", "strokeWidth": 1.4, "fill": "#fdf5fd"}, "encoding": {"order": {"value": null}}},
      {"data": {"name": "ax"}, "mark": {"type": "rule", "color": "#505050", "strokeWidth": 1}, "encoding": {"x2": {"field": "x2"}, "y2": {"field": "y2"}}},
      {"data": {"name": "tx"}, "mark": {"type": "tick", "orient": "vertical", "size": 8, "thickness": 1, "color": "#a0a0a0", "opacity": 1}},
      {"data": {"name": "ty"}, "mark": {"type": "tick", "orient": "horizontal", "size": 9, "thickness": 1, "color": "#a0a0a0", "opacity": 1}},
      {"data": {"name": "ar"}, "mark": {"type": "point", "filled": false, "size": 576, "color": "#505050", "strokeWidth": 1, "opacity": 1}, "encoding": {"shape": {"field": "d", "type": "nominal", "scale": {"domain": ["r", "u"], "range": ["M-1,-0.5L0,0L-1,0.5", "M-0.5,1L0,0L0.5,1"]}, "legend": null}}},
      {"data": {"name": "hippo"}, "transform": [{"filter": "datum.r == 0.4"}], "mark": {"type": "line", "interpolate": "catmull-rom", "color": "#3838ae", "strokeWidth": 2}, "encoding": {"order": {"value": null}}},
      {"data": {"name": "fx"}, "mark": {"type": "text", "font": "Liberation Sans", "fontSize": 15, "color": "#222222"}, "encoding": {"text": {"field": "t", "type": "nominal"}}},
      {"data": {"name": "lab"}, "transform": [{"filter": "datum.r == 0.4 && datum.s == 'l'"}], "mark": {"type": "text", "align": "right", "dx": -4, "font": "Liberation Sans", "fontSize": 14.5, "color": "#222222"}, "encoding": {"text": {"field": "t", "type": "nominal"}}},
      {"data": {"name": "lab"}, "transform": [{"filter": "datum.r == 0.4 && datum.s == 'r'"}], "mark": {"type": "text", "align": "left", "dx": 6, "font": "Liberation Sans", "fontSize": 14.5, "color": "#222222"}, "encoding": {"text": {"field": "t", "type": "nominal"}}}
     ]},
    {"width": 321, "height": 337,
     "encoding": {"x": {"field": "x", "type": "quantitative", "scale": {"domain": [-1.4297, 1.4441], "nice": false, "zero": false, "padding": 0}, "axis": null},
                  "y": {"field": "y", "type": "quantitative", "scale": {"domain": [-1.4888, 1.5282], "nice": false, "zero": false, "padding": 0}, "axis": null}},
     "layer": [
      {"data": {"name": "ell"}, "transform": [{"filter": "datum.r == 0.3"}], "mark": {"type": "line", "interpolate": "catmull-rom", "stroke": "#b03cb4", "strokeWidth": 1.4, "fill": "#fdf5fd"}, "encoding": {"order": {"value": null}}},
      {"data": {"name": "ax"}, "mark": {"type": "rule", "color": "#505050", "strokeWidth": 1}, "encoding": {"x2": {"field": "x2"}, "y2": {"field": "y2"}}},
      {"data": {"name": "tx"}, "mark": {"type": "tick", "orient": "vertical", "size": 8, "thickness": 1, "color": "#a0a0a0", "opacity": 1}},
      {"data": {"name": "ty"}, "mark": {"type": "tick", "orient": "horizontal", "size": 9, "thickness": 1, "color": "#a0a0a0", "opacity": 1}},
      {"data": {"name": "ar"}, "mark": {"type": "point", "filled": false, "size": 576, "color": "#505050", "strokeWidth": 1, "opacity": 1}, "encoding": {"shape": {"field": "d", "type": "nominal", "scale": {"domain": ["r", "u"], "range": ["M-1,-0.5L0,0L-1,0.5", "M-0.5,1L0,0L0.5,1"]}, "legend": null}}},
      {"data": {"name": "hippo"}, "transform": [{"filter": "datum.r == 0.3"}], "mark": {"type": "line", "interpolate": "catmull-rom", "color": "#5050bc", "strokeWidth": 2}, "encoding": {"order": {"value": null}}},
      {"data": {"name": "fx"}, "mark": {"type": "text", "font": "Liberation Sans", "fontSize": 15, "color": "#222222"}, "encoding": {"text": {"field": "t", "type": "nominal"}}},
      {"data": {"name": "lab"}, "transform": [{"filter": "datum.r == 0.3 && datum.s == 'l'"}], "mark": {"type": "text", "align": "right", "dx": -4, "font": "Liberation Sans", "fontSize": 14.5, "color": "#222222"}, "encoding": {"text": {"field": "t", "type": "nominal"}}},
      {"data": {"name": "lab"}, "transform": [{"filter": "datum.r == 0.3 && datum.s == 'r'"}], "mark": {"type": "text", "align": "left", "dx": 6, "font": "Liberation Sans", "fontSize": 14.5, "color": "#222222"}, "encoding": {"text": {"field": "t", "type": "nominal"}}}
     ]},
    {"width": 320, "height": 337,
     "encoding": {"x": {"field": "x", "type": "quantitative", "scale": {"domain": [-1.4414, 1.4234], "nice": false, "zero": false, "padding": 0}, "axis": null},
                  "y": {"field": "y", "type": "quantitative", "scale": {"domain": [-1.4888, 1.5282], "nice": false, "zero": false, "padding": 0}, "axis": null}},
     "layer": [
      {"data": {"name": "ell"}, "transform": [{"filter": "datum.r == 0.2"}], "mark": {"type": "line", "interpolate": "catmull-rom", "stroke": "#b03cb4", "strokeWidth": 1.4, "fill": "#fdf5fd"}, "encoding": {"order": {"value": null}}},
      {"data": {"name": "ax"}, "mark": {"type": "rule", "color": "#505050", "strokeWidth": 1}, "encoding": {"x2": {"field": "x2"}, "y2": {"field": "y2"}}},
      {"data": {"name": "tx"}, "mark": {"type": "tick", "orient": "vertical", "size": 8, "thickness": 1, "color": "#a0a0a0", "opacity": 1}},
      {"data": {"name": "ty"}, "mark": {"type": "tick", "orient": "horizontal", "size": 9, "thickness": 1, "color": "#a0a0a0", "opacity": 1}},
      {"data": {"name": "ar"}, "mark": {"type": "point", "filled": false, "size": 576, "color": "#505050", "strokeWidth": 1, "opacity": 1}, "encoding": {"shape": {"field": "d", "type": "nominal", "scale": {"domain": ["r", "u"], "range": ["M-1,-0.5L0,0L-1,0.5", "M-0.5,1L0,0L0.5,1"]}, "legend": null}}},
      {"data": {"name": "hippo"}, "transform": [{"filter": "datum.r == 0.2"}], "mark": {"type": "line", "interpolate": "catmull-rom", "color": "#7272c8", "strokeWidth": 2}, "encoding": {"order": {"value": null}}},
      {"data": {"name": "fx"}, "mark": {"type": "text", "font": "Liberation Sans", "fontSize": 15, "color": "#222222"}, "encoding": {"text": {"field": "t", "type": "nominal"}}},
      {"data": {"name": "lab"}, "transform": [{"filter": "datum.r == 0.2 && datum.s == 'l'"}], "mark": {"type": "text", "align": "right", "dx": -4, "font": "Liberation Sans", "fontSize": 14.5, "color": "#222222"}, "encoding": {"text": {"field": "t", "type": "nominal"}}},
      {"data": {"name": "lab"}, "transform": [{"filter": "datum.r == 0.2 && datum.s == 'r'"}], "mark": {"type": "text", "align": "left", "dx": 6, "font": "Liberation Sans", "fontSize": 14.5, "color": "#222222"}, "encoding": {"text": {"field": "t", "type": "nominal"}}}
     ]},

    {"width": 190, "height": 38, "view": {"fill": "#f2f2f2", "stroke": "#000000", "strokeWidth": 2}, "data": {"values": [{"t": "b₁/a₁"}]}, "mark": {"type": "text", "font": "Lato", "fontSize": 27, "dy": 2}, "encoding": {"text": {"field": "t", "type": "nominal"}}},
    {"width": 323, "height": 38, "view": {"fill": "#f2f2f2", "stroke": "#000000", "strokeWidth": 2}, "data": {"values": [{"t": "0.1"}]}, "mark": {"type": "text", "font": "Lato", "fontSize": 27, "dy": 2}, "encoding": {"text": {"field": "t", "type": "nominal"}}},
    {"width": 321, "height": 38, "view": {"fill": "#f2f2f2", "stroke": "#000000", "strokeWidth": 2}, "data": {"values": [{"t": "0"}]}, "mark": {"type": "text", "font": "Lato", "fontSize": 27, "dy": 2}, "encoding": {"text": {"field": "t", "type": "nominal"}}},
    {"width": 320, "height": 38, "view": {"fill": "#f2f2f2", "stroke": "#000000", "strokeWidth": 2}, "data": {"values": [{"t": "[1,0]"}]}, "mark": {"type": "text", "font": "Lato", "fontSize": 27, "dy": 2}, "encoding": {"text": {"field": "t", "type": "nominal"}}},

    {"width": 190, "height": 333, "view": {"fill": "#f2f2f2", "stroke": "#000000", "strokeWidth": 2}, "data": {"values": [{"t": "Convergence\ncurve"}]}, "mark": {"type": "text", "font": "Lato", "fontSize": 27, "lineBreak": "\n", "lineHeight": 36, "dy": -16}, "encoding": {"text": {"field": "t", "type": "nominal"}}},
    {"width": 323, "height": 333,
     "encoding": {"x": {"field": "x", "type": "quantitative", "scale": {"domain": [-1.4387, 1.453], "nice": false, "zero": false, "padding": 0}, "axis": null},
                  "y": {"field": "y", "type": "quantitative", "scale": {"domain": [-1.462, 1.5192], "nice": false, "zero": false, "padding": 0}, "axis": null}},
     "layer": [
      {"data": {"name": "ell"}, "transform": [{"filter": "datum.r == 0.1"}], "mark": {"type": "line", "interpolate": "catmull-rom", "stroke": "#b03cb4", "strokeWidth": 1.4, "fill": "#fdf5fd"}, "encoding": {"order": {"value": null}}},
      {"data": {"name": "ax"}, "mark": {"type": "rule", "color": "#505050", "strokeWidth": 1}, "encoding": {"x2": {"field": "x2"}, "y2": {"field": "y2"}}},
      {"data": {"name": "tx"}, "mark": {"type": "tick", "orient": "vertical", "size": 8, "thickness": 1, "color": "#a0a0a0", "opacity": 1}},
      {"data": {"name": "ty"}, "mark": {"type": "tick", "orient": "horizontal", "size": 9, "thickness": 1, "color": "#a0a0a0", "opacity": 1}},
      {"data": {"name": "ar"}, "mark": {"type": "point", "filled": false, "size": 576, "color": "#505050", "strokeWidth": 1, "opacity": 1}, "encoding": {"shape": {"field": "d", "type": "nominal", "scale": {"domain": ["r", "u"], "range": ["M-1,-0.5L0,0L-1,0.5", "M-0.5,1L0,0L0.5,1"]}, "legend": null}}},
      {"data": {"name": "hippo"}, "transform": [{"filter": "datum.r == 0.1"}], "mark": {"type": "line", "interpolate": "catmull-rom", "color": "#9696d4", "strokeWidth": 2}, "encoding": {"order": {"value": null}}},
      {"data": {"name": "fx"}, "mark": {"type": "text", "font": "Liberation Sans", "fontSize": 15, "color": "#222222"}, "encoding": {"text": {"field": "t", "type": "nominal"}}},
      {"data": {"name": "lab"}, "transform": [{"filter": "datum.r == 0.1 && datum.s == 'l'"}], "mark": {"type": "text", "align": "right", "dx": -4, "font": "Liberation Sans", "fontSize": 14.5, "color": "#222222"}, "encoding": {"text": {"field": "t", "type": "nominal"}}},
      {"data": {"name": "lab"}, "transform": [{"filter": "datum.r == 0.1 && datum.s == 'r'"}], "mark": {"type": "text", "align": "left", "dx": 6, "font": "Liberation Sans", "fontSize": 14.5, "color": "#222222"}, "encoding": {"text": {"field": "t", "type": "nominal"}}}
     ]},
    {"width": 321, "height": 333,
     "encoding": {"x": {"field": "x", "type": "quantitative", "scale": {"domain": [-1.4297, 1.4441], "nice": false, "zero": false, "padding": 0}, "axis": null},
                  "y": {"field": "y", "type": "quantitative", "scale": {"domain": [-1.462, 1.5192], "nice": false, "zero": false, "padding": 0}, "axis": null}},
     "layer": [
      {"data": {"name": "ax"}, "mark": {"type": "rule", "color": "#505050", "strokeWidth": 1}, "encoding": {"x2": {"field": "x2"}, "y2": {"field": "y2"}}},
      {"data": {"name": "tx"}, "mark": {"type": "tick", "orient": "vertical", "size": 8, "thickness": 1, "color": "#a0a0a0", "opacity": 1}},
      {"data": {"name": "ty"}, "mark": {"type": "tick", "orient": "horizontal", "size": 9, "thickness": 1, "color": "#a0a0a0", "opacity": 1}},
      {"data": {"name": "ar"}, "mark": {"type": "point", "filled": false, "size": 576, "color": "#505050", "strokeWidth": 1, "opacity": 1}, "encoding": {"shape": {"field": "d", "type": "nominal", "scale": {"domain": ["r", "u"], "range": ["M-1,-0.5L0,0L-1,0.5", "M-0.5,1L0,0L0.5,1"]}, "legend": null}}},
      {"data": {"name": "seg"}, "mark": {"type": "rule", "color": "#dd22dd", "strokeWidth": 1.6}, "encoding": {"x2": {"field": "x2"}, "y2": {"field": "y2"}}},
      {"data": {"name": "hippo"}, "transform": [{"filter": "datum.r == 0"}], "mark": {"type": "line", "interpolate": "catmull-rom", "color": "#c2c2e4", "strokeWidth": 2}, "encoding": {"order": {"value": null}}},
      {"data": {"name": "fx"}, "mark": {"type": "text", "font": "Liberation Sans", "fontSize": 15, "color": "#222222"}, "encoding": {"text": {"field": "t", "type": "nominal"}}},
      {"data": {"name": "lab"}, "transform": [{"filter": "datum.r == 0 && datum.s == 'l'"}], "mark": {"type": "text", "align": "right", "dx": -4, "font": "Liberation Sans", "fontSize": 14.5, "color": "#222222"}, "encoding": {"text": {"field": "t", "type": "nominal"}}},
      {"data": {"name": "lab"}, "transform": [{"filter": "datum.r == 0 && datum.s == 'r'"}], "mark": {"type": "text", "align": "left", "dx": 6, "font": "Liberation Sans", "fontSize": 14.5, "color": "#222222"}, "encoding": {"text": {"field": "t", "type": "nominal"}}}
     ]},
    {"width": 320, "height": 333,
     "encoding": {"x": {"field": "x", "type": "quantitative", "scale": {"domain": [-1.4414, 1.4234], "nice": false, "zero": false, "padding": 0}, "axis": null},
                  "y": {"field": "y", "type": "quantitative", "scale": {"domain": [-1.462, 1.5192], "nice": false, "zero": false, "padding": 0}, "axis": null}},
     "layer": [
      {"data": {"name": "ax"}, "mark": {"type": "rule", "color": "#505050", "strokeWidth": 1}, "encoding": {"x2": {"field": "x2"}, "y2": {"field": "y2"}}},
      {"data": {"name": "tx"}, "transform": [{"filter": "datum.x > -0.15 && datum.x < 0.15"}], "mark": {"type": "tick", "orient": "vertical", "size": 8, "thickness": 1, "color": "#b4b4b4", "opacity": 1}},
      {"data": {"name": "ty"}, "mark": {"type": "tick", "orient": "horizontal", "size": 9, "thickness": 1, "color": "#b4b4b4", "opacity": 1}},
      {"data": {"name": "ar"}, "mark": {"type": "point", "filled": false, "size": 576, "color": "#505050", "strokeWidth": 1, "opacity": 1}, "encoding": {"shape": {"field": "d", "type": "nominal", "scale": {"domain": ["r", "u"], "range": ["M-1,-0.5L0,0L-1,0.5", "M-0.5,1L0,0L0.5,1"]}, "legend": null}}},
      {"data": {"name": "hippo"}, "mark": {"type": "line", "interpolate": "catmull-rom", "strokeWidth": 1.8},
       "encoding": {"order": {"value": null},
                    "color": {"field": "r", "type": "ordinal", "legend": null,
                              "scale": {"domain": [0, 0.1, 0.2, 0.3, 0.4, 0.5, 0.6, 0.7, 0.8, 0.9, 1],
                                        "range": ["#a8a8f6", "#7c7cf2", "#5656ec", "#3434e4", "#2020d6", "#1a1ac0", "#1a1aa4", "#1a1a86", "#1a1a66", "#181846", "#141424"]}}}},
      {"data": {"name": "fx"}, "transform": [{"filter": "datum.t == 'Y' || datum.t == 'X'"}], "mark": {"type": "text", "font": "Liberation Sans", "fontSize": 15, "color": "#222222"}, "encoding": {"text": {"field": "t", "type": "nominal"}}}
     ]}
  ]
}
